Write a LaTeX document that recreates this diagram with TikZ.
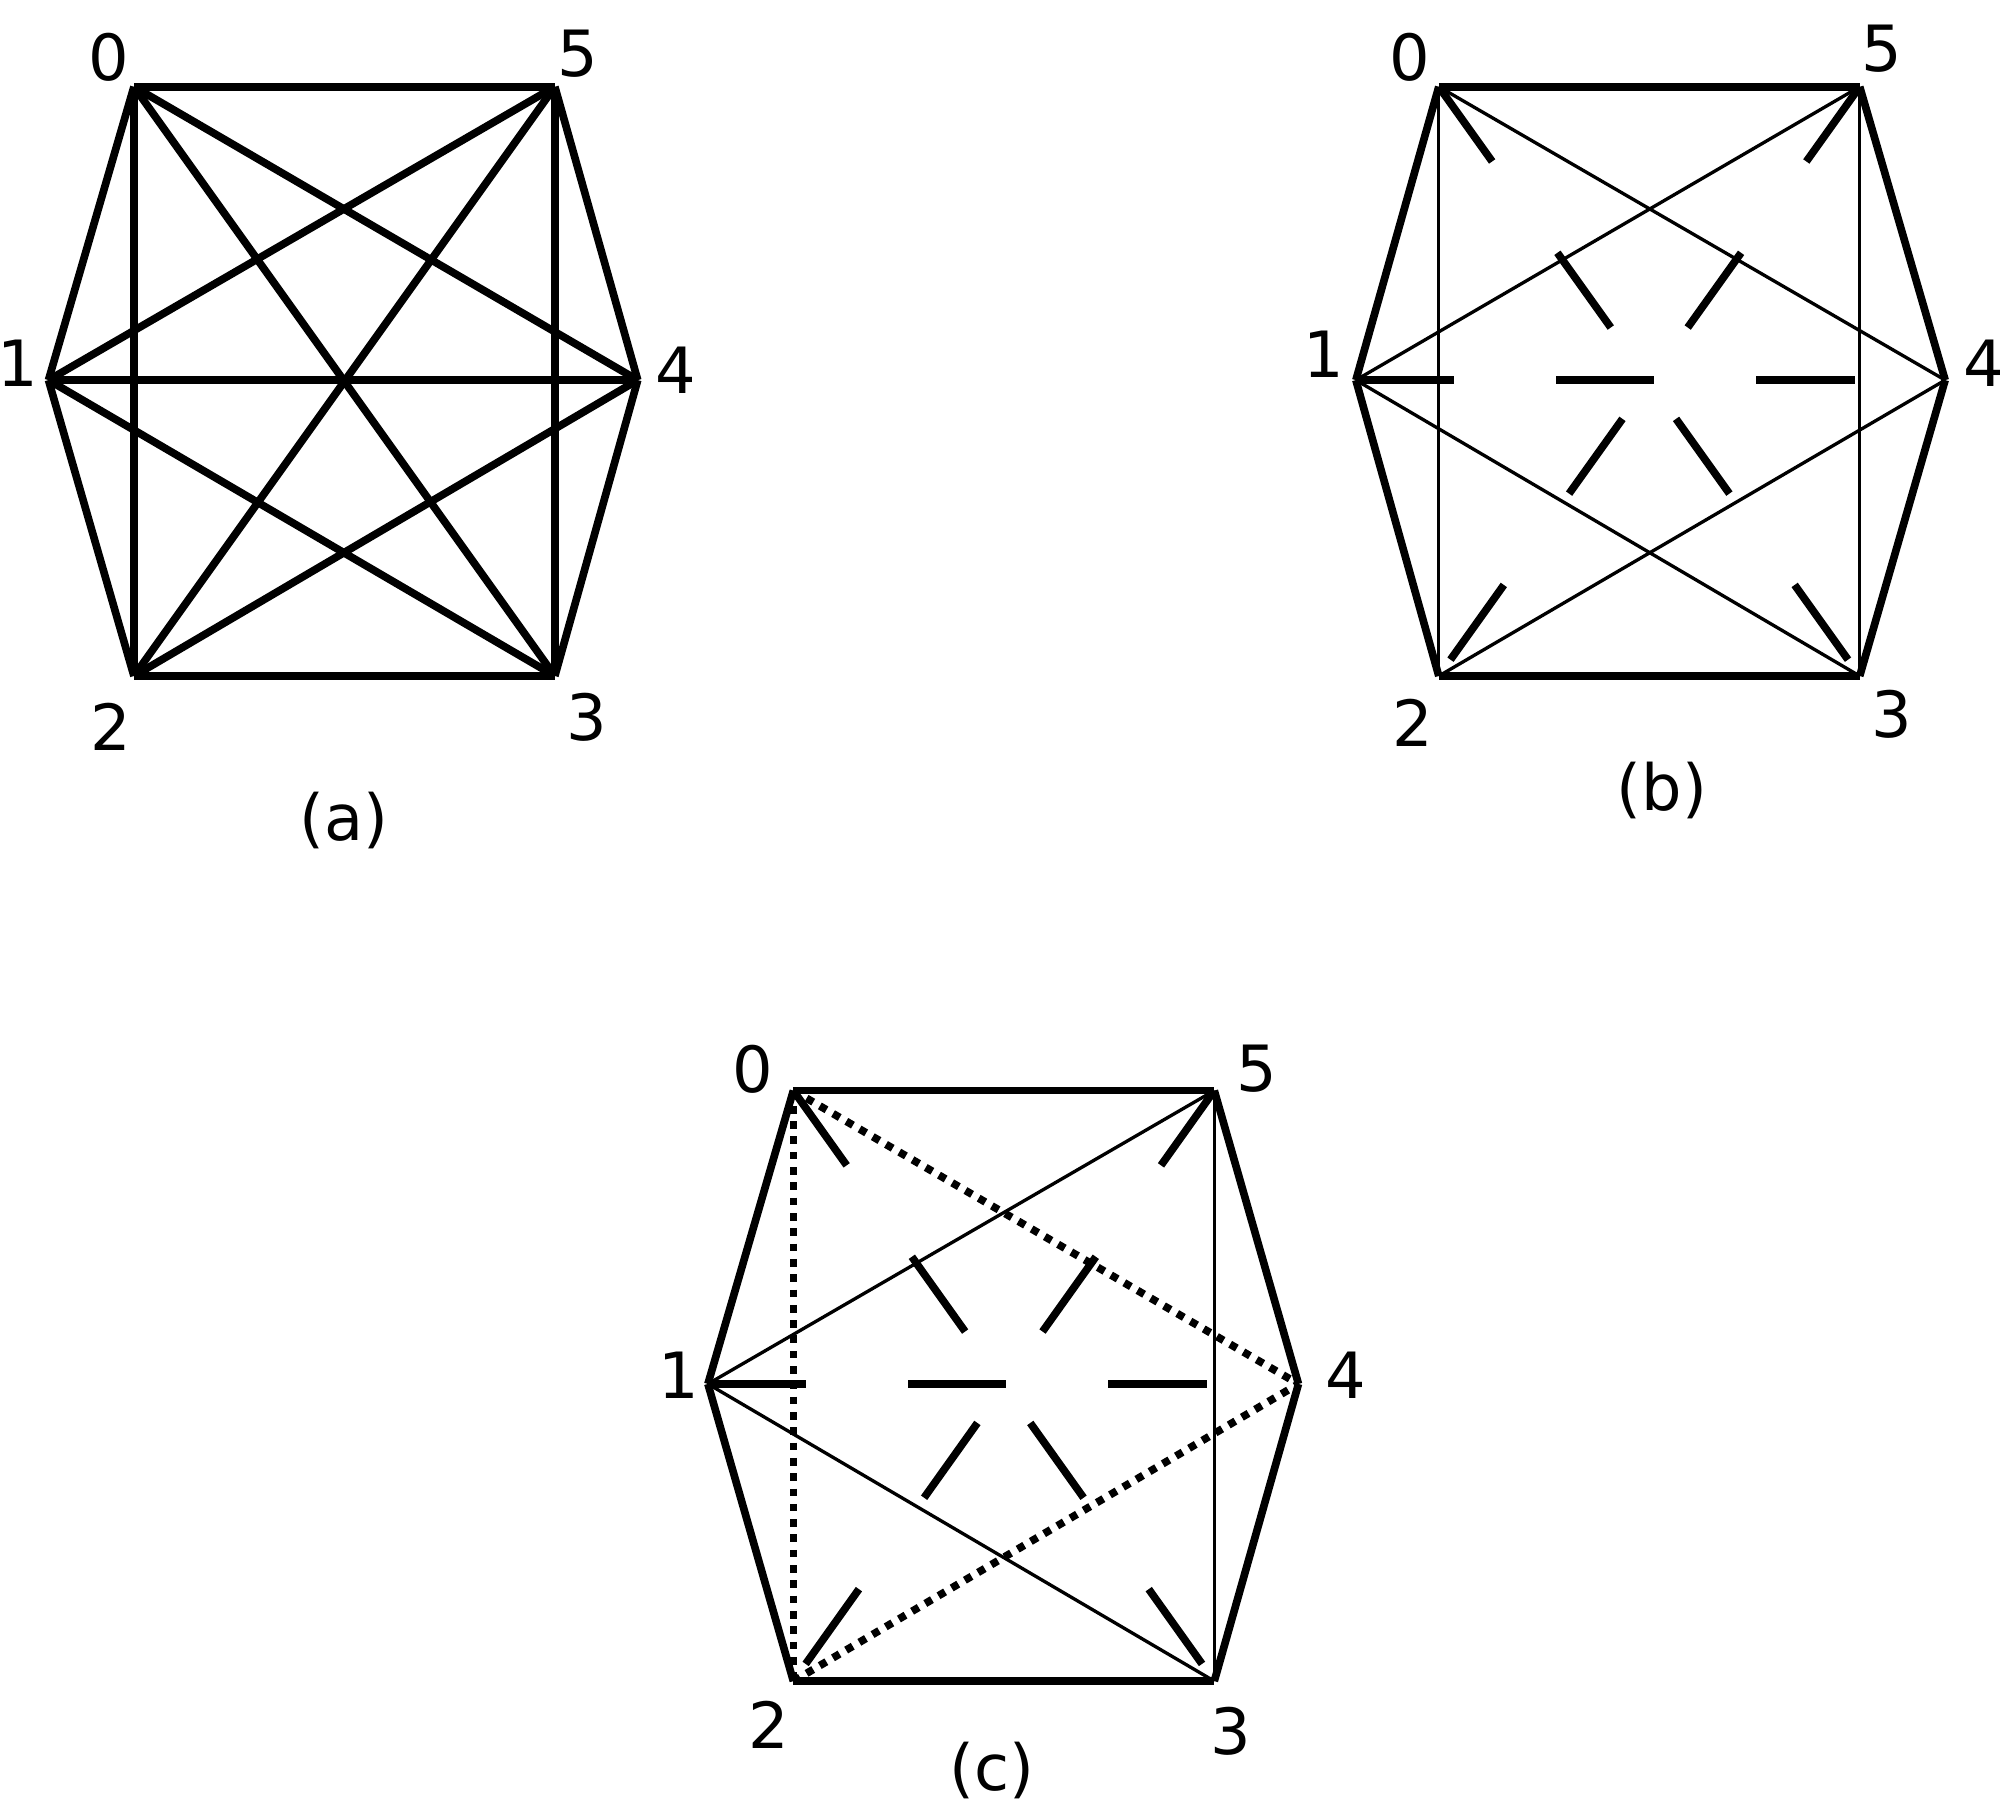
\documentclass[tikz,border=0pt]{standalone}
\usepackage{fontspec}
\setmainfont{DejaVu Sans}
\begin{document}
\begin{tikzpicture}[x=1pt,y=-1pt,
  thk/.style={line width=6pt,line cap=butt,line join=miter},
  thn/.style={line width=2.6pt},
  dsh/.style={line width=6pt,dash pattern=on 72pt off 88pt},
  dshh/.style={line width=6pt,dash pattern=on 77pt off 80pt},
  dot/.style={line width=6pt,dash pattern=on 6pt off 6pt},
  lab/.style={font=\fontsize{50}{50}\selectfont,inner sep=0pt}]
\useasboundingbox (0,0) rectangle (1568,1418);
% panel a
\foreach \n/\x/\y in {0/105/68,5/435/68,1/38/298,4/500/298,2/105/530,3/435/530}
  \coordinate (a\n) at (\x,\y);
\foreach \p/\q in {0/5,0/1,0/2,0/3,0/4,5/1,5/2,5/3,5/4,1/2,1/3,1/4,2/3,2/4,3/4}
  \draw[thk] (a\p) -- (a\q);
\node[lab] (la0) at (85,45) {0};
\node[lab] (la5) at (453,42) {5};
\node[lab] (la1) at (14,285) {1};
\node[lab] (la4) at (530,290) {4};
\node[lab] (la2) at (87,570) {2};
\node[lab] (la3) at (460,562) {3};
\node[lab] (ca) at (270,643) {(a)};
% panel b
\foreach \n/\x/\y in {0/1128/68,5/1458/68,1/1063/298,4/1525/298,2/1128/530,3/1458/530}
  \coordinate (b\n) at (\x,\y);
\foreach \p/\q in {0/5,2/3,0/1,1/2,5/4,4/3} \draw[thk] (b\p) -- (b\q);
\foreach \p/\q in {0/2,5/3,0/4,5/1,1/3,2/4} \draw[thn] (b\p) -- (b\q);
\draw[dsh] (b0) -- (b3);
\draw[dsh] (b5) -- (b2);
\draw[dshh] (b1) -- (b4);
\node[lab] (lb0) at (1105,45) {0};
\node[lab] (lb5) at (1475,38) {5};
\node[lab] (lb1) at (1038,278) {1};
\node[lab] (lb4) at (1555,285) {4};
\node[lab] (lb2) at (1108,567) {2};
\node[lab] (lb3) at (1483,560) {3};
\node[lab] (cb) at (1303,620) {(b)};
% panel c
\foreach \n/\x/\y in {0/622/855,5/952/855,1/555/1085,4/1018/1085,2/622/1318,3/952/1318}
  \coordinate (c\n) at (\x,\y);
\foreach \p/\q in {0/5,2/3,0/1,1/2,5/4,4/3} \draw[thk] (c\p) -- (c\q);
\foreach \p/\q in {5/3,5/1,1/3} \draw[thn] (c\p) -- (c\q);
\foreach \p/\q in {0/2,0/4,2/4} \draw[dot] (c\p) -- (c\q);
\draw[dsh] (c0) -- (c3);
\draw[dsh] (c5) -- (c2);
\draw[dshh] (c1) -- (c4);
\node[lab] (lc0) at (590,838) {0};
\node[lab] (lc5) at (985,838) {5};
\node[lab] (lc1) at (532,1078) {1};
\node[lab] (lc4) at (1055,1078) {4};
\node[lab] (lc2) at (603,1352) {2};
\node[lab] (lc3) at (965,1357) {3};
\node[lab] (cc) at (778,1388) {(c)};
\end{tikzpicture}
\end{document}
